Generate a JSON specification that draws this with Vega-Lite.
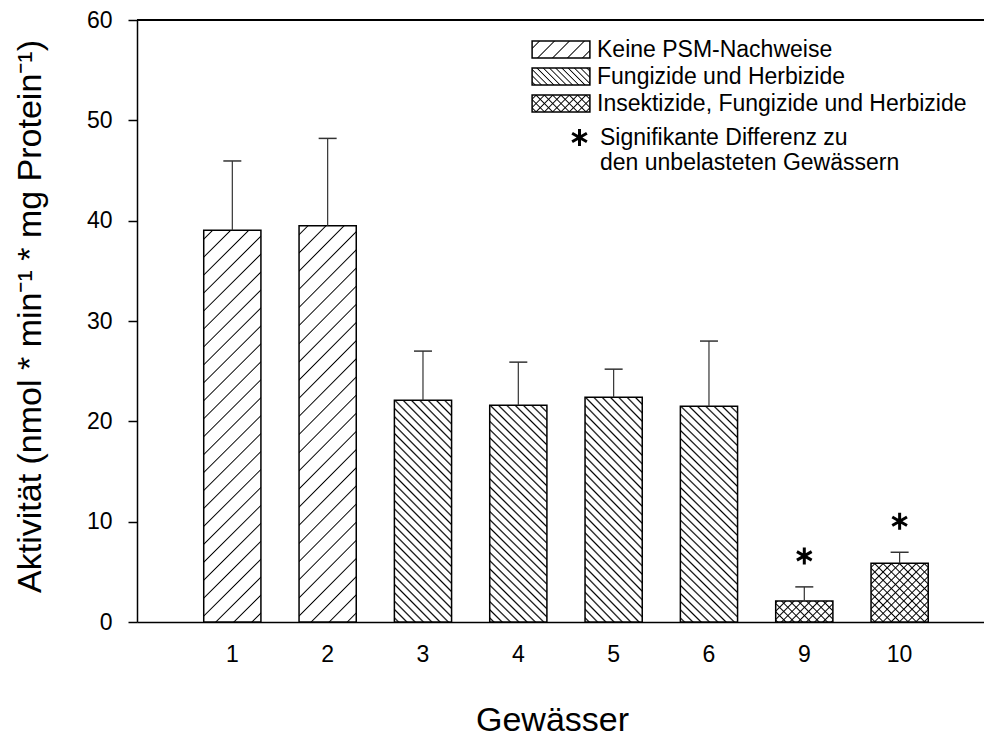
{
  "$schema": "https://vega.github.io/schema/vega-lite/v6.json",
  "width": 847,
  "height": 602,
  "autosize": {"type": "none"},
  "padding": {"left": 137, "top": 20, "right": 0, "bottom": 114},
  "background": "white",
  "config": {
    "view": {"stroke": null},
    "font": "Liberation Sans, Arial, sans-serif",
    "axis": {"domainColor": "#000", "domainWidth": 1.5, "tickColor": "#000", "tickWidth": 1.5, "labelColor": "#000", "titleColor": "#000", "labelFont": "Liberation Sans, Arial, sans-serif", "titleFont": "Liberation Sans, Arial, sans-serif", "titleFontWeight": "normal", "grid": false},
    "legend": {"labelFont": "Liberation Sans, Arial, sans-serif", "labelColor": "#000", "labelLimit": 600, "padding": 0, "orient": "none", "title": null, "symbolType": "M-3.4,-1H3.4V1H-3.4Z", "symbolSize": 289, "symbolStrokeWidth": 1.5, "labelFontSize": 23, "labelOffset": 24.5, "legendX": 412.5}
  },
  "data": {
    "values": [
      {"g": "1", "grp": "Keine PSM-Nachweise", "code": "A", "mean": 39.05, "upper": 45.95},
      {"g": "2", "grp": "Keine PSM-Nachweise", "code": "A", "mean": 39.5, "upper": 48.2},
      {"g": "3", "grp": "Fungizide und Herbizide", "code": "B", "mean": 22.1, "upper": 27.0},
      {"g": "4", "grp": "Fungizide und Herbizide", "code": "B", "mean": 21.6, "upper": 25.9},
      {"g": "5", "grp": "Fungizide und Herbizide", "code": "B", "mean": 22.4, "upper": 25.2},
      {"g": "6", "grp": "Fungizide und Herbizide", "code": "B", "mean": 21.5, "upper": 28.0},
      {"g": "9", "grp": "Insektizide, Fungizide und Herbizide", "code": "C", "mean": 2.1, "upper": 3.5, "sig": "Signifikante Differenz zu"},
      {"g": "10", "grp": "Insektizide, Fungizide und Herbizide", "code": "C", "mean": 5.85, "upper": 6.95, "sig": "Signifikante Differenz zu"}
    ]
  },
  "resolve": {"axis": {"x": "independent", "y": "independent"}},
  "layer": [
    {
      "mark": {"type": "bar", "strokeWidth": 1.5, "stroke": "#000"},
      "encoding": {
        "x": {"field": "g", "type": "nominal", "sort": null, "scale": {"paddingInner": 0.4, "paddingOuter": 0.6425, "align": 0.5447},
          "axis": {"orient": "bottom", "title": "Gewässer", "labelAngle": 0, "ticks": false, "domain": true, "labelFontSize": 23, "labelPadding": 21, "titleFontSize": 34, "titleX": 415, "titleY": 81, "titleBaseline": "top", "titleAlign": "center"}},
        "y": {"field": "mean", "type": "quantitative", "scale": {"domain": [0, 60], "nice": false},
          "axis": {"orient": "left", "title": "Aktivität (nmol * min⁻¹ * mg Protein⁻¹)", "values": [0, 10, 20, 30, 40, 50, 60], "tickSize": 9, "labelFontSize": 23, "labelPadding": 16, "titleFontSize": 34, "titleAngle": -90, "titleX": -97, "titleY": 296, "titleBaseline": "alphabetic", "titleAlign": "center"}},
        "fill": {
          "condition": [
            {"test": "datum.code === 'A'", "value": {"gradient": "linear", "x1": 0, "y1": 0, "x2": 0.1628, "y2": 1.1216, "stops": [
              {"offset": 0.017, "color": "#fff"}, {"offset": 0.02, "color": "#000"}, {"offset": 0.023, "color": "#fff"},
              {"offset": 0.057, "color": "#fff"}, {"offset": 0.06, "color": "#000"}, {"offset": 0.063, "color": "#fff"},
              {"offset": 0.097, "color": "#fff"}, {"offset": 0.1, "color": "#000"}, {"offset": 0.103, "color": "#fff"},
              {"offset": 0.137, "color": "#fff"}, {"offset": 0.14, "color": "#000"}, {"offset": 0.143, "color": "#fff"},
              {"offset": 0.177, "color": "#fff"}, {"offset": 0.18, "color": "#000"}, {"offset": 0.183, "color": "#fff"},
              {"offset": 0.217, "color": "#fff"}, {"offset": 0.22, "color": "#000"}, {"offset": 0.223, "color": "#fff"},
              {"offset": 0.257, "color": "#fff"}, {"offset": 0.26, "color": "#000"}, {"offset": 0.263, "color": "#fff"},
              {"offset": 0.297, "color": "#fff"}, {"offset": 0.3, "color": "#000"}, {"offset": 0.303, "color": "#fff"},
              {"offset": 0.337, "color": "#fff"}, {"offset": 0.34, "color": "#000"}, {"offset": 0.343, "color": "#fff"},
              {"offset": 0.377, "color": "#fff"}, {"offset": 0.38, "color": "#000"}, {"offset": 0.383, "color": "#fff"},
              {"offset": 0.417, "color": "#fff"}, {"offset": 0.42, "color": "#000"}, {"offset": 0.423, "color": "#fff"},
              {"offset": 0.457, "color": "#fff"}, {"offset": 0.46, "color": "#000"}, {"offset": 0.463, "color": "#fff"},
              {"offset": 0.497, "color": "#fff"}, {"offset": 0.5, "color": "#000"}, {"offset": 0.503, "color": "#fff"},
              {"offset": 0.537, "color": "#fff"}, {"offset": 0.54, "color": "#000"}, {"offset": 0.543, "color": "#fff"},
              {"offset": 0.577, "color": "#fff"}, {"offset": 0.58, "color": "#000"}, {"offset": 0.583, "color": "#fff"},
              {"offset": 0.617, "color": "#fff"}, {"offset": 0.62, "color": "#000"}, {"offset": 0.623, "color": "#fff"},
              {"offset": 0.657, "color": "#fff"}, {"offset": 0.66, "color": "#000"}, {"offset": 0.663, "color": "#fff"},
              {"offset": 0.697, "color": "#fff"}, {"offset": 0.7, "color": "#000"}, {"offset": 0.703, "color": "#fff"},
              {"offset": 0.737, "color": "#fff"}, {"offset": 0.74, "color": "#000"}, {"offset": 0.743, "color": "#fff"},
              {"offset": 0.777, "color": "#fff"}, {"offset": 0.78, "color": "#000"}, {"offset": 0.783, "color": "#fff"},
              {"offset": 0.817, "color": "#fff"}, {"offset": 0.82, "color": "#000"}, {"offset": 0.823, "color": "#fff"},
              {"offset": 0.857, "color": "#fff"}, {"offset": 0.86, "color": "#000"}, {"offset": 0.863, "color": "#fff"},
              {"offset": 0.897, "color": "#fff"}, {"offset": 0.9, "color": "#000"}, {"offset": 0.903, "color": "#fff"},
              {"offset": 0.937, "color": "#fff"}, {"offset": 0.94, "color": "#000"}, {"offset": 0.943, "color": "#fff"},
              {"offset": 0.977, "color": "#fff"}, {"offset": 0.98, "color": "#000"}, {"offset": 0.983, "color": "#fff"}
            ]}},
            {"test": "datum.code === 'B'", "value": {"gradient": "linear", "x1": 0, "y1": 1, "x2": 0.3073, "y2": -0.1803, "stops": [
              {"offset": 0.009, "color": "#fff"}, {"offset": 0.015, "color": "#000"}, {"offset": 0.021, "color": "#fff"},
              {"offset": 0.039, "color": "#fff"}, {"offset": 0.045, "color": "#000"}, {"offset": 0.051, "color": "#fff"},
              {"offset": 0.069, "color": "#fff"}, {"offset": 0.075, "color": "#000"}, {"offset": 0.081, "color": "#fff"},
              {"offset": 0.099, "color": "#fff"}, {"offset": 0.105, "color": "#000"}, {"offset": 0.111, "color": "#fff"},
              {"offset": 0.129, "color": "#fff"}, {"offset": 0.135, "color": "#000"}, {"offset": 0.141, "color": "#fff"},
              {"offset": 0.159, "color": "#fff"}, {"offset": 0.165, "color": "#000"}, {"offset": 0.171, "color": "#fff"},
              {"offset": 0.189, "color": "#fff"}, {"offset": 0.195, "color": "#000"}, {"offset": 0.201, "color": "#fff"},
              {"offset": 0.219, "color": "#fff"}, {"offset": 0.225, "color": "#000"}, {"offset": 0.231, "color": "#fff"},
              {"offset": 0.249, "color": "#fff"}, {"offset": 0.255, "color": "#000"}, {"offset": 0.261, "color": "#fff"},
              {"offset": 0.279, "color": "#fff"}, {"offset": 0.285, "color": "#000"}, {"offset": 0.291, "color": "#fff"},
              {"offset": 0.309, "color": "#fff"}, {"offset": 0.315, "color": "#000"}, {"offset": 0.321, "color": "#fff"},
              {"offset": 0.339, "color": "#fff"}, {"offset": 0.345, "color": "#000"}, {"offset": 0.351, "color": "#fff"},
              {"offset": 0.369, "color": "#fff"}, {"offset": 0.375, "color": "#000"}, {"offset": 0.381, "color": "#fff"},
              {"offset": 0.399, "color": "#fff"}, {"offset": 0.405, "color": "#000"}, {"offset": 0.411, "color": "#fff"},
              {"offset": 0.429, "color": "#fff"}, {"offset": 0.435, "color": "#000"}, {"offset": 0.441, "color": "#fff"},
              {"offset": 0.459, "color": "#fff"}, {"offset": 0.465, "color": "#000"}, {"offset": 0.471, "color": "#fff"},
              {"offset": 0.489, "color": "#fff"}, {"offset": 0.495, "color": "#000"}, {"offset": 0.501, "color": "#fff"},
              {"offset": 0.519, "color": "#fff"}, {"offset": 0.525, "color": "#000"}, {"offset": 0.531, "color": "#fff"},
              {"offset": 0.549, "color": "#fff"}, {"offset": 0.555, "color": "#000"}, {"offset": 0.561, "color": "#fff"},
              {"offset": 0.579, "color": "#fff"}, {"offset": 0.585, "color": "#000"}, {"offset": 0.591, "color": "#fff"},
              {"offset": 0.609, "color": "#fff"}, {"offset": 0.615, "color": "#000"}, {"offset": 0.621, "color": "#fff"},
              {"offset": 0.639, "color": "#fff"}, {"offset": 0.645, "color": "#000"}, {"offset": 0.651, "color": "#fff"},
              {"offset": 0.669, "color": "#fff"}, {"offset": 0.675, "color": "#000"}, {"offset": 0.681, "color": "#fff"},
              {"offset": 0.699, "color": "#fff"}, {"offset": 0.705, "color": "#000"}, {"offset": 0.711, "color": "#fff"},
              {"offset": 0.729, "color": "#fff"}, {"offset": 0.735, "color": "#000"}, {"offset": 0.741, "color": "#fff"},
              {"offset": 0.759, "color": "#fff"}, {"offset": 0.765, "color": "#000"}, {"offset": 0.771, "color": "#fff"},
              {"offset": 0.789, "color": "#fff"}, {"offset": 0.795, "color": "#000"}, {"offset": 0.801, "color": "#fff"},
              {"offset": 0.819, "color": "#fff"}, {"offset": 0.825, "color": "#000"}, {"offset": 0.831, "color": "#fff"},
              {"offset": 0.849, "color": "#fff"}, {"offset": 0.855, "color": "#000"}, {"offset": 0.861, "color": "#fff"},
              {"offset": 0.879, "color": "#fff"}, {"offset": 0.885, "color": "#000"}, {"offset": 0.891, "color": "#fff"},
              {"offset": 0.909, "color": "#fff"}, {"offset": 0.915, "color": "#000"}, {"offset": 0.921, "color": "#fff"},
              {"offset": 0.939, "color": "#fff"}, {"offset": 0.945, "color": "#000"}, {"offset": 0.951, "color": "#fff"},
              {"offset": 0.969, "color": "#fff"}, {"offset": 0.975, "color": "#000"}, {"offset": 0.981, "color": "#fff"}
            ]}},
            {"test": "datum.g === '9'", "value": {"gradient": "linear", "x1": 0, "y1": 0, "x2": 1.2049, "y2": 0.4445, "stops": [
              {"offset": 0.007, "color": "#fff"}, {"offset": 0.025, "color": "#000"}, {"offset": 0.043, "color": "#fff"},
              {"offset": 0.113, "color": "#fff"}, {"offset": 0.131, "color": "#000"}, {"offset": 0.149, "color": "#fff"},
              {"offset": 0.219, "color": "#fff"}, {"offset": 0.237, "color": "#000"}, {"offset": 0.255, "color": "#fff"},
              {"offset": 0.325, "color": "#fff"}, {"offset": 0.343, "color": "#000"}, {"offset": 0.361, "color": "#fff"},
              {"offset": 0.431, "color": "#fff"}, {"offset": 0.449, "color": "#000"}, {"offset": 0.467, "color": "#fff"},
              {"offset": 0.537, "color": "#fff"}, {"offset": 0.555, "color": "#000"}, {"offset": 0.573, "color": "#fff"},
              {"offset": 0.643, "color": "#fff"}, {"offset": 0.661, "color": "#000"}, {"offset": 0.679, "color": "#fff"},
              {"offset": 0.749, "color": "#fff"}, {"offset": 0.767, "color": "#000"}, {"offset": 0.785, "color": "#fff"},
              {"offset": 0.855, "color": "#fff"}, {"offset": 0.873, "color": "#000"}, {"offset": 0.891, "color": "#fff"},
              {"offset": 0.961, "color": "#fff"}, {"offset": 0.979, "color": "#000"}, {"offset": 0.997, "color": "#fff"}
            ]}}
          ],
          "value": {"gradient": "linear", "x1": 0, "y1": 0, "x2": 0.9868, "y2": 1.0127, "stops": [
            {"offset": 0.0237, "color": "#fff"}, {"offset": 0.0357, "color": "#000"}, {"offset": 0.0477, "color": "#fff"},
            {"offset": 0.0951, "color": "#fff"}, {"offset": 0.1071, "color": "#000"}, {"offset": 0.1191, "color": "#fff"},
            {"offset": 0.1666, "color": "#fff"}, {"offset": 0.1786, "color": "#000"}, {"offset": 0.1906, "color": "#fff"},
            {"offset": 0.238, "color": "#fff"}, {"offset": 0.25, "color": "#000"}, {"offset": 0.262, "color": "#fff"},
            {"offset": 0.3094, "color": "#fff"}, {"offset": 0.3214, "color": "#000"}, {"offset": 0.3334, "color": "#fff"},
            {"offset": 0.3809, "color": "#fff"}, {"offset": 0.3929, "color": "#000"}, {"offset": 0.4049, "color": "#fff"},
            {"offset": 0.4523, "color": "#fff"}, {"offset": 0.4643, "color": "#000"}, {"offset": 0.4763, "color": "#fff"},
            {"offset": 0.5237, "color": "#fff"}, {"offset": 0.5357, "color": "#000"}, {"offset": 0.5477, "color": "#fff"},
            {"offset": 0.5951, "color": "#fff"}, {"offset": 0.6071, "color": "#000"}, {"offset": 0.6191, "color": "#fff"},
            {"offset": 0.6666, "color": "#fff"}, {"offset": 0.6786, "color": "#000"}, {"offset": 0.6906, "color": "#fff"},
            {"offset": 0.738, "color": "#fff"}, {"offset": 0.75, "color": "#000"}, {"offset": 0.762, "color": "#fff"},
            {"offset": 0.8094, "color": "#fff"}, {"offset": 0.8214, "color": "#000"}, {"offset": 0.8334, "color": "#fff"},
            {"offset": 0.8809, "color": "#fff"}, {"offset": 0.8929, "color": "#000"}, {"offset": 0.9049, "color": "#fff"},
            {"offset": 0.9523, "color": "#fff"}, {"offset": 0.9643, "color": "#000"}, {"offset": 0.9763, "color": "#fff"}
          ]}
        }
      }
    },
    {
      "transform": [{"filter": "datum.code === 'C'"}],
      "mark": {"type": "bar", "strokeWidth": 0},
      "encoding": {
        "x": {"field": "g", "type": "nominal", "sort": null, "axis": null},
        "y": {"field": "mean", "type": "quantitative", "axis": null},
        "fill": {
          "condition": {"test": "datum.g === '9'", "value": {"gradient": "linear", "x1": 0, "y1": 1, "x2": 1.2049, "y2": 0.5555, "stops": [
            {"offset": 0.007, "color": "rgba(0,0,0,0)"}, {"offset": 0.025, "color": "#000"}, {"offset": 0.043, "color": "rgba(0,0,0,0)"},
            {"offset": 0.113, "color": "rgba(0,0,0,0)"}, {"offset": 0.131, "color": "#000"}, {"offset": 0.149, "color": "rgba(0,0,0,0)"},
            {"offset": 0.219, "color": "rgba(0,0,0,0)"}, {"offset": 0.237, "color": "#000"}, {"offset": 0.255, "color": "rgba(0,0,0,0)"},
            {"offset": 0.325, "color": "rgba(0,0,0,0)"}, {"offset": 0.343, "color": "#000"}, {"offset": 0.361, "color": "rgba(0,0,0,0)"},
            {"offset": 0.431, "color": "rgba(0,0,0,0)"}, {"offset": 0.449, "color": "#000"}, {"offset": 0.467, "color": "rgba(0,0,0,0)"},
            {"offset": 0.537, "color": "rgba(0,0,0,0)"}, {"offset": 0.555, "color": "#000"}, {"offset": 0.573, "color": "rgba(0,0,0,0)"},
            {"offset": 0.643, "color": "rgba(0,0,0,0)"}, {"offset": 0.661, "color": "#000"}, {"offset": 0.679, "color": "rgba(0,0,0,0)"},
            {"offset": 0.749, "color": "rgba(0,0,0,0)"}, {"offset": 0.767, "color": "#000"}, {"offset": 0.785, "color": "rgba(0,0,0,0)"},
            {"offset": 0.855, "color": "rgba(0,0,0,0)"}, {"offset": 0.873, "color": "#000"}, {"offset": 0.891, "color": "rgba(0,0,0,0)"},
            {"offset": 0.961, "color": "rgba(0,0,0,0)"}, {"offset": 0.979, "color": "#000"}, {"offset": 0.997, "color": "rgba(0,0,0,0)"}
          ]}},
          "value": {"gradient": "linear", "x1": 0, "y1": 1, "x2": 0.9868, "y2": -0.0127, "stops": [
            {"offset": 0.0237, "color": "rgba(0,0,0,0)"}, {"offset": 0.0357, "color": "#000"}, {"offset": 0.0477, "color": "rgba(0,0,0,0)"},
            {"offset": 0.0951, "color": "rgba(0,0,0,0)"}, {"offset": 0.1071, "color": "#000"}, {"offset": 0.1191, "color": "rgba(0,0,0,0)"},
            {"offset": 0.1666, "color": "rgba(0,0,0,0)"}, {"offset": 0.1786, "color": "#000"}, {"offset": 0.1906, "color": "rgba(0,0,0,0)"},
            {"offset": 0.238, "color": "rgba(0,0,0,0)"}, {"offset": 0.25, "color": "#000"}, {"offset": 0.262, "color": "rgba(0,0,0,0)"},
            {"offset": 0.3094, "color": "rgba(0,0,0,0)"}, {"offset": 0.3214, "color": "#000"}, {"offset": 0.3334, "color": "rgba(0,0,0,0)"},
            {"offset": 0.3809, "color": "rgba(0,0,0,0)"}, {"offset": 0.3929, "color": "#000"}, {"offset": 0.4049, "color": "rgba(0,0,0,0)"},
            {"offset": 0.4523, "color": "rgba(0,0,0,0)"}, {"offset": 0.4643, "color": "#000"}, {"offset": 0.4763, "color": "rgba(0,0,0,0)"},
            {"offset": 0.5237, "color": "rgba(0,0,0,0)"}, {"offset": 0.5357, "color": "#000"}, {"offset": 0.5477, "color": "rgba(0,0,0,0)"},
            {"offset": 0.5951, "color": "rgba(0,0,0,0)"}, {"offset": 0.6071, "color": "#000"}, {"offset": 0.6191, "color": "rgba(0,0,0,0)"},
            {"offset": 0.6666, "color": "rgba(0,0,0,0)"}, {"offset": 0.6786, "color": "#000"}, {"offset": 0.6906, "color": "rgba(0,0,0,0)"},
            {"offset": 0.738, "color": "rgba(0,0,0,0)"}, {"offset": 0.75, "color": "#000"}, {"offset": 0.762, "color": "rgba(0,0,0,0)"},
            {"offset": 0.8094, "color": "rgba(0,0,0,0)"}, {"offset": 0.8214, "color": "#000"}, {"offset": 0.8334, "color": "rgba(0,0,0,0)"},
            {"offset": 0.8809, "color": "rgba(0,0,0,0)"}, {"offset": 0.8929, "color": "#000"}, {"offset": 0.9049, "color": "rgba(0,0,0,0)"},
            {"offset": 0.9523, "color": "rgba(0,0,0,0)"}, {"offset": 0.9643, "color": "#000"}, {"offset": 0.9763, "color": "rgba(0,0,0,0)"}
          ]}
        }
      }
    },
    {
      "mark": {"type": "rule", "color": "#000", "strokeWidth": 1.5},
      "encoding": {"y": {"datum": 60, "type": "quantitative", "axis": null}}
    },
    {
      "mark": {"type": "rule", "color": "#333", "strokeWidth": 1.2},
      "encoding": {
        "x": {"field": "g", "type": "nominal", "sort": null, "axis": null},
        "y": {"field": "mean", "type": "quantitative", "axis": null},
        "y2": {"field": "upper"}
      }
    },
    {
      "mark": {"type": "tick", "color": "#333", "size": 18, "thickness": 1.5, "opacity": 1},
      "encoding": {
        "x": {"field": "g", "type": "nominal", "sort": null, "axis": null},
        "y": {"field": "upper", "type": "quantitative", "axis": null}
      }
    },
    {
      "transform": [{"filter": "isValid(datum.sig)"}],
      "mark": {"type": "point", "filled": false, "size": 289, "stroke": "#000", "strokeWidth": 3, "opacity": 1, "yOffset": -31},
      "encoding": {
        "x": {"field": "g", "type": "nominal", "sort": null, "axis": null},
        "y": {"field": "upper", "type": "quantitative", "axis": null},
        "shape": {"field": "sig", "type": "nominal",
          "scale": {"range": ["M0,-1V1M-0.866,-0.5L0.866,0.5M-0.866,0.5L0.866,-0.5"]},
          "legend": {"legendX": 431, "legendY": 106, "symbolType": "circle",
            "symbolSize": 289, "symbolStrokeWidth": 3, "labelOffset": 9,
            "labelExpr": "['Signifikante Differenz zu', 'den unbelasteten Gewässern']",
            "encode": {
              "symbols": {"shape": {"value": "M0,-2.647V-0.647M-0.866,-2.147L0.866,-1.147M-0.866,-1.147L0.866,-2.147"}, "stroke": {"value": "#000"}, "fill": {"value": "transparent"}, "strokeWidth": {"value": 3}, "opacity": {"value": 1}},
              "labels": {"lineHeight": {"value": 28}}
            }
          }
        }
      }
    },
    {
      "transform": [{"filter": "false"}],
      "mark": {"type": "point", "shape": "M-3.4,-1H3.4V1H-3.4Z", "size": 289, "filled": true, "stroke": "#000", "strokeWidth": 1.5, "opacity": 1,
        "fill": {"gradient": "linear", "x1": 0, "y1": 0, "x2": 1.1908, "y2": 0.349, "stops": [
          {"offset": 0.082, "color": "#fff"}, {"offset": 0.1, "color": "#000"}, {"offset": 0.118, "color": "#fff"},
          {"offset": 0.282, "color": "#fff"}, {"offset": 0.3, "color": "#000"}, {"offset": 0.318, "color": "#fff"},
          {"offset": 0.482, "color": "#fff"}, {"offset": 0.5, "color": "#000"}, {"offset": 0.518, "color": "#fff"},
          {"offset": 0.682, "color": "#fff"}, {"offset": 0.7, "color": "#000"}, {"offset": 0.718, "color": "#fff"},
          {"offset": 0.882, "color": "#fff"}, {"offset": 0.9, "color": "#000"}, {"offset": 0.918, "color": "#fff"}
        ]}},
      "encoding": {
        "strokeDash": {"field": "grp", "type": "nominal", "scale": {"domain": ["Keine PSM-Nachweise"], "range": [[1, 0]]},
          "legend": {"legendY": 18, "zindex": 1}}
      }
    },
    {
      "transform": [{"filter": "false"}],
      "mark": {"type": "point", "shape": "M-3.4,-1H3.4V1H-3.4Z", "size": 289, "filled": true, "stroke": "#000", "strokeWidth": 1.5, "opacity": 1,
        "fill": {"gradient": "linear", "x1": 0, "y1": 1, "x2": 1.1908, "y2": 0.651, "stops": [
          {"offset": 0.0257, "color": "#fff"}, {"offset": 0.0417, "color": "#000"}, {"offset": 0.0577, "color": "#fff"},
          {"offset": 0.109, "color": "#fff"}, {"offset": 0.125, "color": "#000"}, {"offset": 0.141, "color": "#fff"},
          {"offset": 0.1923, "color": "#fff"}, {"offset": 0.2083, "color": "#000"}, {"offset": 0.2243, "color": "#fff"},
          {"offset": 0.2757, "color": "#fff"}, {"offset": 0.2917, "color": "#000"}, {"offset": 0.3077, "color": "#fff"},
          {"offset": 0.359, "color": "#fff"}, {"offset": 0.375, "color": "#000"}, {"offset": 0.391, "color": "#fff"},
          {"offset": 0.4423, "color": "#fff"}, {"offset": 0.4583, "color": "#000"}, {"offset": 0.4743, "color": "#fff"},
          {"offset": 0.5257, "color": "#fff"}, {"offset": 0.5417, "color": "#000"}, {"offset": 0.5577, "color": "#fff"},
          {"offset": 0.609, "color": "#fff"}, {"offset": 0.625, "color": "#000"}, {"offset": 0.641, "color": "#fff"},
          {"offset": 0.6923, "color": "#fff"}, {"offset": 0.7083, "color": "#000"}, {"offset": 0.7243, "color": "#fff"},
          {"offset": 0.7757, "color": "#fff"}, {"offset": 0.7917, "color": "#000"}, {"offset": 0.8077, "color": "#fff"},
          {"offset": 0.859, "color": "#fff"}, {"offset": 0.875, "color": "#000"}, {"offset": 0.891, "color": "#fff"},
          {"offset": 0.9423, "color": "#fff"}, {"offset": 0.9583, "color": "#000"}, {"offset": 0.9743, "color": "#fff"}
        ]}},
      "encoding": {
        "stroke": {"field": "grp", "type": "nominal", "scale": {"domain": ["Fungizide und Herbizide"], "range": ["#000"]},
          "legend": {"legendY": 45, "zindex": 1}}
      }
    },
    {
      "transform": [{"filter": "false"}],
      "mark": {"type": "point", "shape": "M-3.4,-1H3.4V1H-3.4Z", "size": 289, "filled": true, "stroke": "#000", "strokeWidth": 1.5, "opacity": 1,
        "fill": {"gradient": "linear", "x1": 0, "y1": 0, "x2": 1.1908, "y2": 0.349, "stops": [
          {"offset": 0.0376, "color": "rgba(0,0,0,0)"}, {"offset": 0.0556, "color": "#000"}, {"offset": 0.0736, "color": "rgba(0,0,0,0)"},
          {"offset": 0.1487, "color": "rgba(0,0,0,0)"}, {"offset": 0.1667, "color": "#000"}, {"offset": 0.1847, "color": "rgba(0,0,0,0)"},
          {"offset": 0.2598, "color": "rgba(0,0,0,0)"}, {"offset": 0.2778, "color": "#000"}, {"offset": 0.2958, "color": "rgba(0,0,0,0)"},
          {"offset": 0.3709, "color": "rgba(0,0,0,0)"}, {"offset": 0.3889, "color": "#000"}, {"offset": 0.4069, "color": "rgba(0,0,0,0)"},
          {"offset": 0.482, "color": "rgba(0,0,0,0)"}, {"offset": 0.5, "color": "#000"}, {"offset": 0.518, "color": "rgba(0,0,0,0)"},
          {"offset": 0.5931, "color": "rgba(0,0,0,0)"}, {"offset": 0.6111, "color": "#000"}, {"offset": 0.6291, "color": "rgba(0,0,0,0)"},
          {"offset": 0.7042, "color": "rgba(0,0,0,0)"}, {"offset": 0.7222, "color": "#000"}, {"offset": 0.7402, "color": "rgba(0,0,0,0)"},
          {"offset": 0.8153, "color": "rgba(0,0,0,0)"}, {"offset": 0.8333, "color": "#000"}, {"offset": 0.8513, "color": "rgba(0,0,0,0)"},
          {"offset": 0.9264, "color": "rgba(0,0,0,0)"}, {"offset": 0.9444, "color": "#000"}, {"offset": 0.9624, "color": "rgba(0,0,0,0)"}
        ]}},
      "encoding": {
        "opacity": {"field": "grp", "type": "ordinal", "scale": {"domain": ["Insektizide, Fungizide und Herbizide"], "range": [1, 1]},
          "legend": {"legendY": 72, "zindex": 1}}
      }
    },
    {
      "transform": [{"filter": "false"}],
      "mark": {"type": "point", "shape": "M-3.4,-1H3.4V1H-3.4Z", "size": 289, "filled": true, "stroke": "transparent", "strokeWidth": 1.5, "opacity": 1,
        "fill": {"gradient": "linear", "x1": 0, "y1": 1, "x2": 1.1908, "y2": 0.651, "stops": [
          {"offset": 0.0376, "color": "rgba(0,0,0,0)"}, {"offset": 0.0556, "color": "#000"}, {"offset": 0.0736, "color": "rgba(0,0,0,0)"},
          {"offset": 0.1487, "color": "rgba(0,0,0,0)"}, {"offset": 0.1667, "color": "#000"}, {"offset": 0.1847, "color": "rgba(0,0,0,0)"},
          {"offset": 0.2598, "color": "rgba(0,0,0,0)"}, {"offset": 0.2778, "color": "#000"}, {"offset": 0.2958, "color": "rgba(0,0,0,0)"},
          {"offset": 0.3709, "color": "rgba(0,0,0,0)"}, {"offset": 0.3889, "color": "#000"}, {"offset": 0.4069, "color": "rgba(0,0,0,0)"},
          {"offset": 0.482, "color": "rgba(0,0,0,0)"}, {"offset": 0.5, "color": "#000"}, {"offset": 0.518, "color": "rgba(0,0,0,0)"},
          {"offset": 0.5931, "color": "rgba(0,0,0,0)"}, {"offset": 0.6111, "color": "#000"}, {"offset": 0.6291, "color": "rgba(0,0,0,0)"},
          {"offset": 0.7042, "color": "rgba(0,0,0,0)"}, {"offset": 0.7222, "color": "#000"}, {"offset": 0.7402, "color": "rgba(0,0,0,0)"},
          {"offset": 0.8153, "color": "rgba(0,0,0,0)"}, {"offset": 0.8333, "color": "#000"}, {"offset": 0.8513, "color": "rgba(0,0,0,0)"},
          {"offset": 0.9264, "color": "rgba(0,0,0,0)"}, {"offset": 0.9444, "color": "#000"}, {"offset": 0.9624, "color": "rgba(0,0,0,0)"}
        ]}},
      "encoding": {
        "size": {"field": "code", "type": "ordinal", "scale": {"domain": ["C"], "range": [289, 289]},
          "legend": {"legendY": 72, "zindex": 2, "labelExpr": "''"}}
      }
    }
  ]
}
